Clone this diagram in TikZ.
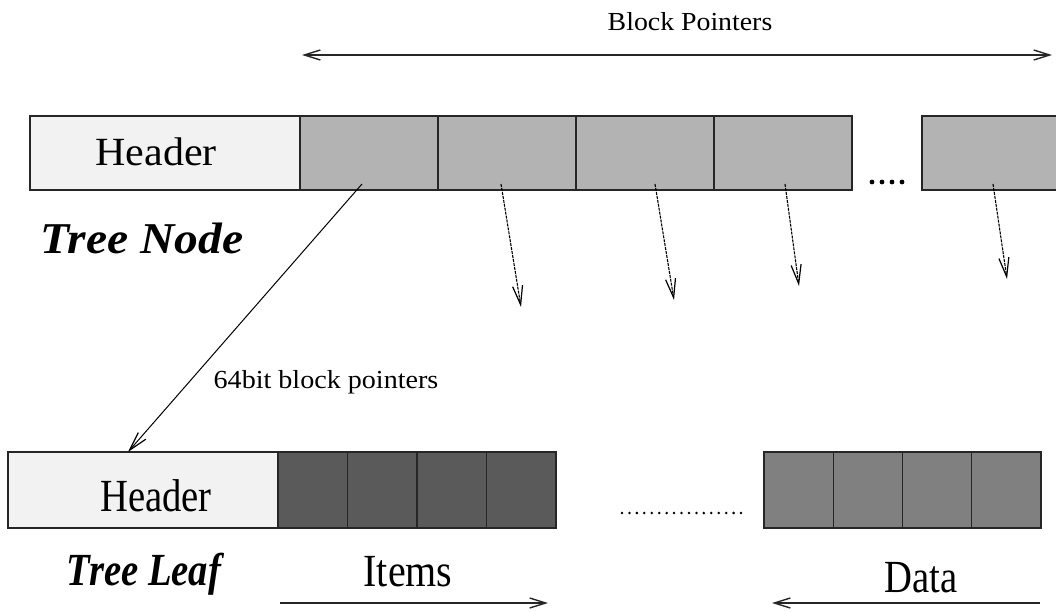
\documentclass[tikz,border=0pt]{standalone}
\usepackage{fontspec}
\setmainfont{Liberation Serif}
\usetikzlibrary{arrows.meta}
\definecolor{hdrfill}{HTML}{F2F2F2}
\definecolor{ptrfill}{HTML}{B3B3B3}
\definecolor{itemfill}{HTML}{5A5A5A}
\definecolor{datafill}{HTML}{808080}
\newcommand{\hstretch}[2]{\scalebox{#1}[1]{#2}}
\tikzset{
  cellbox/.style={draw=black!85, line width=1.2pt, inner sep=0pt, outer sep=0pt, anchor=north west},
  topcell/.style={cellbox, minimum height=74pt},
  leafcell/.style={cellbox, minimum height=76pt},
  barbtip/.tip={Straight Barb[length=16pt,width=10pt]},
  longbarb/.tip={Straight Barb[length=19pt,width=10pt,line width=1.2pt]},
  ptrarrow/.style={-longbarb, line width=1.1pt, dash pattern=on 3pt off 1pt},
  linkarrow/.style={-longbarb, line width=1pt},
  spanarrow/.style={line width=1.4pt, black!85},
  label/.style={inner sep=0pt, text=black},
  dotmark/.style={fill=black, draw=none}
}
\begin{document}
\begin{tikzpicture}[x=1pt, y=-1pt]
\clip (0,0) rectangle (1056,612);
\fill[white] (0,0) rectangle (1056,612);

% ---- tree node ----
\node[topcell, fill=hdrfill, minimum width=270pt] (nhdr) at (30,116) {};
\node[label, font=\fontsize{40}{40}\selectfont] (nhdrtext) at (156,152) {\hstretch{1.05}{Header}};
\node[topcell, fill=ptrfill, minimum width=138pt] (t1) at (300,116) {};
\node[topcell, fill=ptrfill, minimum width=138pt] (t2) at (438,116) {};
\node[topcell, fill=ptrfill, minimum width=138pt] (t3) at (576,116) {};
\node[topcell, fill=ptrfill, minimum width=138pt] (t4) at (714,116) {};
\node[topcell, fill=ptrfill, minimum width=140pt] (t5) at (922,116) {};
\foreach \dx in {872,882,892,902} \fill[dotmark] (\dx,182) circle (2.4pt);

\node[label, font=\bfseries\itshape\fontsize{44}{44}\selectfont] (nodetitle) at (142,238) {\hstretch{1.08}{Tree Node}};

% span of block pointers
\coordinate (bpl) at (302,55);
\coordinate (bpr) at (1052,55);
\draw[spanarrow, barbtip-barbtip] (bpl) -- (bpr);
\node[label, font=\fontsize{26}{26}\selectfont] (bptext) at (690,22) {\hstretch{1.07}{Block Pointers}};

% pointers leaving the node
\coordinate (s2) at (501,184);  \coordinate (e2) at (521,307);
\coordinate (s3) at (655,184);  \coordinate (e3) at (674,300);
\coordinate (s4) at (785,184);  \coordinate (e4) at (799,286);
\coordinate (s5) at (993,184);  \coordinate (e5) at (1007,279);
\foreach \i in {2,3,4,5} \draw[ptrarrow] (s\i) -- (e\i);

% ---- tree leaf ----
\node[leafcell, fill=hdrfill, minimum width=270pt] (lhdr) at (8,452) {};
\node[label, font=\fontsize{46}{46}\selectfont] (lhdrtext) at (156,496) {\hstretch{0.84}{Header}};
\foreach \i/\xx in {1/278,2/347.5,3/417,4/486.5}
  \node[leafcell, fill=itemfill, minimum width=69.5pt] (it\i) at (\xx,452) {};
\foreach \i/\xx in {1/764,2/833.25,3/902.5,4/971.75}
  \node[leafcell, fill=datafill, minimum width=69.25pt] (dt\i) at (\xx,452) {};
\foreach \k in {0,...,16} \fill[dotmark] (622+\k*7.44,513) circle (1.4pt);

\node[label, font=\bfseries\itshape\fontsize{46}{46}\selectfont] (leaftitle) at (144,574) {\hstretch{0.84}{Tree Leaf}};
\node[label, font=\fontsize{46}{46}\selectfont] (itemstext) at (408,572) {\hstretch{0.87}{Items}};
\node[label, font=\fontsize{46}{46}\selectfont] (datatext) at (921,578) {\hstretch{0.84}{Data}};

\coordinate (itl) at (280,603);  \coordinate (itr) at (548,603);
\coordinate (dtr) at (1040,603); \coordinate (dtl) at (772,603);
\draw[spanarrow, -barbtip] (itl) -- (itr);
\draw[spanarrow, -barbtip] (dtr) -- (dtl);

% link from the first block pointer to the leaf
\coordinate (lk) at (362,184);
\draw[linkarrow] (lk) -- (lhdr.north west -| 128,452);
\node[label, font=\fontsize{26}{26}\selectfont] (linktext) at (326,382) {\hstretch{1.08}{64bit block pointers}};
\end{tikzpicture}
\end{document}
